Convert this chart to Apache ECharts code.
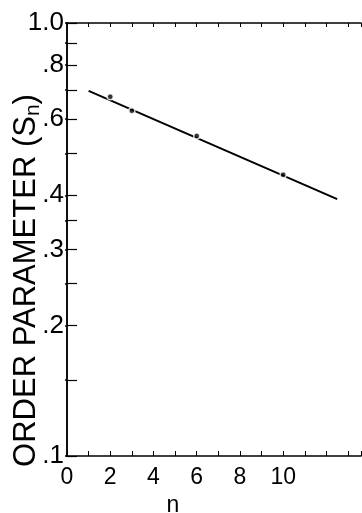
<!DOCTYPE html>
<html>
<head>
<meta charset="utf-8">
<script src="https://cdn.jsdelivr.net/npm/echarts@6/dist/echarts.min.js"></script>
<style>html,body{margin:0;padding:0;background:#fff}#c{width:362px;height:513px}</style>
</head>
<body>
<div id="c"></div>
<script>
// Fitted line endpoints [n, S_n]
var fitLine = [[1, 0.697], [12.5, 0.392]];
// Measured points [n, S_n]
var points = [[2, 0.676], [3, 0.627], [6, 0.548], [10, 0.446]];
// Axis ticks and labels
var xLabelValues = [0, 2, 4, 6, 8, 10];
var yTickValues = [0.1, 0.15, 0.2, 0.25, 0.3, 0.35, 0.4, 0.5, 0.6, 0.7, 0.8, 0.9, 1.0];
var yLabelValues = [0.1, 0.2, 0.3, 0.4, 0.6, 0.8, 1.0];
var yLabelTexts = ['.1', '.2', '.3', '.4', '.6', '.8', '1.0'];

var FONT = 'Liberation Sans';
var chart = echarts.init(document.getElementById('c'), null, {renderer: 'canvas'});
var axisLine = {show: true, lineStyle: {color: '#000', width: 1.5}};
chart.setOption({
  backgroundColor: '#fff',
  animation: false,
  grid: {left: 67, right: 1, top: 23, bottom: 57, containLabel: false, outerBoundsMode: 'none'},
  xAxis: [{
    type: 'value', min: 0, max: 13.6, interval: 1,
    axisLine: axisLine,
    axisTick: {inside: true, length: 5, lineStyle: {color: '#000', width: 1}},
    axisLabel: {customValues: xLabelValues, color: '#000', fontFamily: FONT, fontSize: 23, margin: 10},
    splitLine: {show: false},
    name: 'n', nameLocation: 'middle', nameGap: 38, nameMoveOverlap: false,
    nameTextStyle: {color: '#000', fontFamily: FONT, fontSize: 23, padding: [0, 82, 0, 0]}
  }, {
    type: 'value', min: 0, max: 13.6, interval: 1, position: 'top',
    axisLine: axisLine,
    axisTick: {inside: true, length: 4, lineStyle: {color: '#000', width: 1}},
    axisLabel: {show: false}, splitLine: {show: false}
  }],
  yAxis: [{
    type: 'log', logBase: 10, min: 0.1, max: 1.0,
    axisLine: axisLine,
    axisTick: {inside: true, length: 10, customValues: yTickValues, lineStyle: {color: '#000', width: 1.2}},
    minorTick: {show: false},
    axisLabel: {
      customValues: yLabelValues, color: '#000', fontFamily: FONT, fontSize: 26, margin: 3,
      formatter: function (v) {
        for (var i = 0; i < yLabelValues.length; i++) {
          if (Math.abs(yLabelValues[i] - v) < 1e-6) return yLabelTexts[i];
        }
        return '';
      }
    },
    splitLine: {show: false},
    name: '{a|ORDER PARAMETER (S}{s|n}{a|)}', nameLocation: 'middle', nameGap: 23, nameMoveOverlap: false,
    nameTextStyle: {
      color: '#000', fontFamily: FONT, fontSize: 31, padding: [0, 82, 0, 0],
      rich: {
        a: {fontFamily: FONT, fontSize: 31, color: '#000', lineHeight: 36},
        s: {fontFamily: FONT, fontSize: 21, color: '#000', lineHeight: 36, verticalAlign: 'bottom', padding: [10, 0, 0, 0]}
      }
    }
  }, {
    type: 'log', logBase: 10, min: 0.1, max: 1.0, position: 'right',
    axisLine: axisLine,
    axisTick: {inside: true, length: 2, customValues: yTickValues, lineStyle: {color: '#000', width: 1.5}},
    minorTick: {show: false},
    axisLabel: {show: false}, splitLine: {show: false}
  }],
  series: [{
    type: 'line', data: fitLine, xAxisIndex: 0, yAxisIndex: 0,
    showSymbol: false, symbol: 'none',
    lineStyle: {color: '#000', width: 2}, z: 2
  }, {
    type: 'scatter', data: points, xAxisIndex: 0, yAxisIndex: 0,
    symbol: 'circle', symbolSize: 6,
    itemStyle: {color: '#000', borderColor: '#fff', borderWidth: 1.5}, z: 3
  }]
});
</script>
</body>
</html>
